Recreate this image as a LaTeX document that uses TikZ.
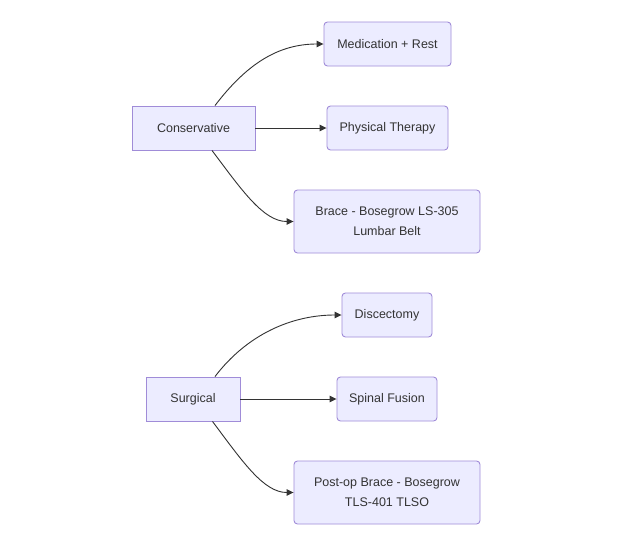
\documentclass[tikz,border=0pt]{standalone}
\usepackage{fontspec}
\setmainfont{Liberation Sans}
\usetikzlibrary{arrows.meta}
\definecolor{nfill}{HTML}{ECECFF}
\definecolor{nline}{HTML}{A08CD8}
\definecolor{eline}{HTML}{333333}
\begin{document}
\begin{tikzpicture}[x=1pt,y=-1pt,
  base/.style={draw=nline,fill=nfill,line width=0.9pt,font=\fontsize{12.5}{20}\selectfont,text=eline,align=center,inner sep=0pt,anchor=center},
  sq/.style={base},
  rd/.style={base,rounded corners=3.5pt},
  arr/.style={draw=eline,line width=0.9pt,-{Triangle[length=7pt,width=6.5pt]}}]
\useasboundingbox (0,0) rectangle (630,555);
\fill[white] (0,0) rectangle (630,555);
% top group
\node[sq,minimum width=123pt,minimum height=44pt] (cons) at (193.5,128) {Conservative};
\node[rd,minimum width=127pt,minimum height=44pt] (med) at (387.5,44) {Medication + Rest};
\node[rd,minimum width=121pt,minimum height=44pt] (pt) at (387.5,128) {Physical Therapy};
\node[rd,minimum width=186pt,minimum height=63pt] (brace) at (387,221.5) {Brace - Bosegrow LS-305\\Lumbar Belt};
% bottom group
\node[sq,minimum width=94pt,minimum height=44pt] (surg) at (193,399) {Surgical};
\node[rd,minimum width=90pt,minimum height=44pt] (disc) at (387,315) {Discectomy};
\node[rd,minimum width=100pt,minimum height=44pt] (fus) at (387,399) {Spinal Fusion};
\node[rd,minimum width=186pt,minimum height=63pt] (post) at (387,492.5) {Post-op Brace - Bosegrow\\TLS-401 TLSO};
% edges
\draw[arr] ([xshift=21.5pt]cons.north) .. controls +(32,-42) and +(-45,0) .. (med.west);
\draw[arr] (cons.east) -- (pt.west);
\draw[arr] ([xshift=18.5pt]cons.south) .. controls +(30,40) and +(-30,0) .. (brace.west);
\draw[arr] ([xshift=22pt]surg.north) .. controls +(32,-42) and +(-50,0) .. (disc.west);
\draw[arr] (surg.east) -- (fus.west);
\draw[arr] ([xshift=19.5pt]surg.south) .. controls +(30,40) and +(-30,0) .. (post.west);
\end{tikzpicture}
\end{document}
